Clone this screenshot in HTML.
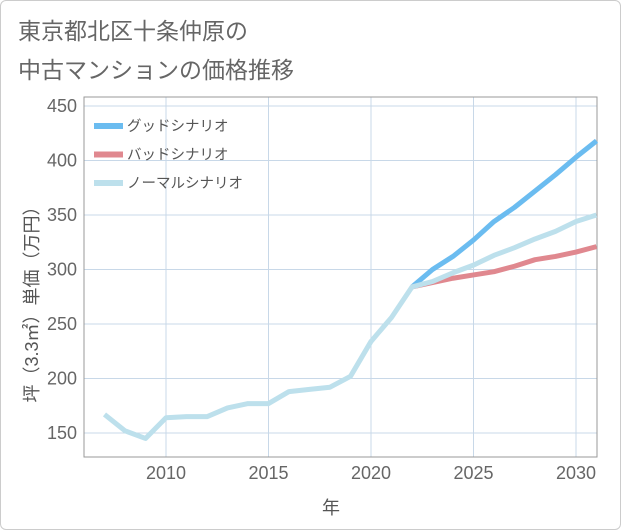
<!DOCTYPE html>
<html><head><meta charset="utf-8"><style>
body{margin:0;background:#fff;font-family:"Liberation Sans","Noto Sans CJK JP",sans-serif;}
#wrap{position:relative;width:619px;height:528px;border:1px solid #ccc;border-radius:6px;overflow:hidden;}
#title{position:absolute;left:17px;top:11px;font-size:23px;line-height:39px;color:#666;}
</style></head><body>
<div id="wrap">
<div id="title">東京都北区十条仲原の<br>中古マンションの価格推移</div>
<svg id="chart" width="621" height="530" style="position:absolute;left:-1px;top:-1px"></svg>
</div>
<script>
const years=[2007,2008,2009,2010,2011,2012,2013,2014,2015,2016,2017,2018,2019,2020,2021,2022,2023,2024,2025,2026,2027,2028,2029,2030,2031];
const normal=[167,152,145,164,165,165,173,177,177,188,190,192,202,234,256,284,289,297,304,313,320,328,335,344,350];
const futureYears=[2022,2023,2024,2025,2026,2027,2028,2029,2030,2031];
const good=[284,300,312,327,344,357,372,387,403,418];
const bad=[284,288,292,295,298,303,309,312,316,321];
const yTicks=[150,200,250,300,350,400,450];
const xTicks=[2010,2015,2020,2025,2030];
const NS="http://www.w3.org/2000/svg";
const svg=document.getElementById('chart');
const L=84,R=597,T=97,B=457;
const x=v=>166+(v-2010)*20.5;
const y=v=>433-(v-150)*(327/300);
function mk(t,a){const e=document.createElementNS(NS,t);for(const k in a)e.setAttribute(k,a[k]);svg.appendChild(e);return e;}
yTicks.forEach(v=>{
 const g=mk('line',{x1:L,x2:R,y1:y(v),y2:y(v),stroke:'#c8d8e8','stroke-width':1});
 
 
 const t=mk('text',{x:77,y:y(v)+6,'text-anchor':'end','font-size':18,fill:'#666'});
 t.textContent=v;
 
 
});
xTicks.forEach(v=>{
 const g=mk('line',{x1:x(v),x2:x(v),y1:T,y2:B,stroke:'#c8d8e8','stroke-width':1});
 
 
 const t=mk('text',{x:x(v),y:479,'text-anchor':'middle','font-size':18,fill:'#666'});
 t.textContent=v;
 
 
});
const frame=mk('rect',{x:L,y:T,width:R-L,height:B-T,fill:'none',stroke:'#999','stroke-width':1});


function line(xs,vs,c,name){
 const p=mk('polyline',{points:xs.map((v,i)=>x(v)+','+y(vs[i])).join(' '),fill:'none',stroke:c,'stroke-width':5,'stroke-linejoin':'round'});
 
 
}
line(futureYears,good,'#6bbcf0','good-scenario-line');
line(futureYears,bad,'#e0888f','bad-scenario-line');
line(years,normal,'#bde0ec','normal-scenario-line');
const leg=[['グッドシナリオ','#6bbcf0','legend-good'],['バッドシナリオ','#e0888f','legend-bad'],['ノーマルシナリオ','#bde0ec','legend-normal']];
leg.forEach((d,i)=>{
 const yy=126+i*28.5;
 const s=mk('line',{x1:94,x2:123,y1:yy,y2:yy,stroke:d[1],'stroke-width':6});
 
 
 const t=mk('text',{x:127,y:yy+5,'font-size':14.5,fill:'#555'});
 t.textContent=d[0];
 
 
});
const xt=mk('text',{x:331,y:514,'text-anchor':'middle','font-size':18,fill:'#555'});
xt.textContent='年';


const yt=mk('text',{x:0,y:0,'text-anchor':'middle','font-size':18,fill:'#555',transform:'translate(38,300) rotate(-90)'});
yt.textContent='坪（3.3㎡）単価（万円）';


</script>
</body></html>
